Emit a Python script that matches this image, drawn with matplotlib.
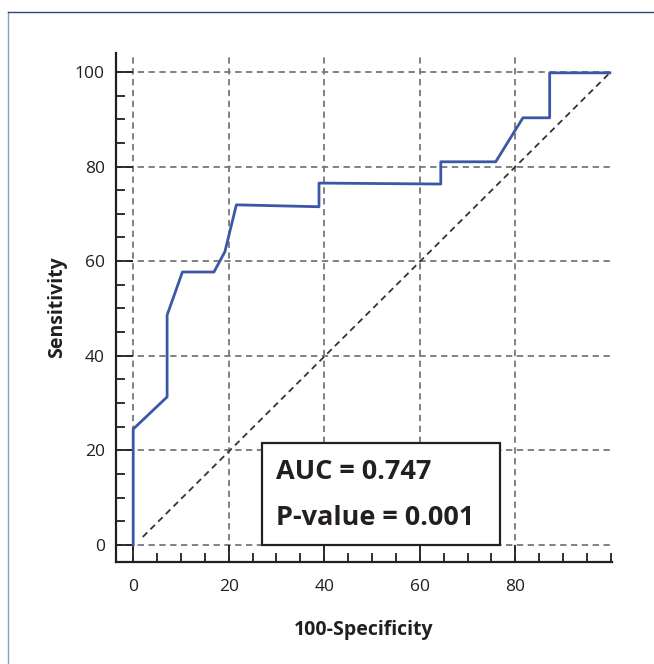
import numpy as np
import matplotlib

matplotlib.use("Agg")
import matplotlib.pyplot as plt
from matplotlib.lines import Line2D
from matplotlib.patches import Rectangle

plt.rcParams["font.family"] = ["Open Sans", "DejaVu Sans"]

# ROC curve (100-specificity, sensitivity)
fpr = [0, 0, 7.1, 7.1, 10.3, 16.9, 19.2, 21.6, 38.9, 38.9, 64.4, 64.4, 75.9, 81.6, 87.2, 87.2, 99.8]
tpr = [0, 24.5, 31.3, 48.6, 57.7, 57.7, 62.0, 71.9, 71.5, 76.5, 76.3, 81.0, 81.0, 90.3, 90.3, 99.8, 99.8]
auc_text = "AUC = 0.747"
p_text = "P-value = 0.001"
xticks = [0, 20, 40, 60, 80]
yticks = [0, 20, 40, 60, 80, 100]

fig = plt.figure(figsize=(6.54, 6.64), dpi=100)
ax = fig.add_axes([0.1774, 0.1536, 0.758, 0.7666])

# frame round the figure (only left and top edges visible)
fig.add_artist(Line2D([8 / 654, 8 / 654], [0, 1 - 12 / 664], transform=fig.transFigure,
                      color="#8e9cc8", lw=1.0))
fig.add_artist(Line2D([8 / 654, 1], [1 - 12 / 664, 1 - 12 / 664], transform=fig.transFigure,
                      color="#2f437e", lw=1.0))

ax.set_xlim(-3.6, 100.2)
ax.set_ylim(-3.6, 104)

for v in xticks:
    ax.axvline(v, color="#777777", lw=1.3, ls=(0, (3.5, 2.5)), zorder=1)
for v in yticks:
    ax.axhline(v, xmax=(100 - -3.6) / (100.2 - -3.6), color="#777777", lw=1.3,
               ls=(0, (3.5, 2.5)), zorder=1)

ax.plot([2, 100], [1.7, 100], color="#333333", lw=1.3, ls=(0, (3.5, 2.5)), zorder=2)
ax.plot(fpr, tpr, color="#3b57a8", lw=2.0, zorder=3)

box = Rectangle((27, 0), 49.8, 21.6, facecolor="white", edgecolor="#222222", lw=1.6, zorder=4)
ax.add_patch(box)
ax.text(30, 15.5, auc_text, fontsize=19.5, fontweight="bold", va="center", ha="left",
        color="#231f20", zorder=5)
ax.text(30, 5.8, p_text, fontsize=19.5, fontweight="bold", va="center", ha="left",
        color="#231f20", zorder=5)

ax.xaxis.set_major_locator(plt.FixedLocator(xticks))
ax.yaxis.set_major_locator(plt.FixedLocator(yticks))
ax.xaxis.set_minor_locator(plt.FixedLocator(np.arange(0, 101, 5)))
ax.yaxis.set_minor_locator(plt.FixedLocator(np.arange(0, 101, 5)))
ax.tick_params(which="major", direction="in", length=12, width=1.3, color="#231f20",
               labelsize=12.5, labelcolor="#231f20")
ax.tick_params(which="minor", direction="in", length=6.5, width=1.3, color="#231f20")
ax.tick_params(axis="x", which="major", pad=12)
ax.tick_params(axis="y", which="major", pad=8)

for s in ["top", "right"]:
    ax.spines[s].set_visible(False)
for s in ["left", "bottom"]:
    ax.spines[s].set_linewidth(1.6)
    ax.spines[s].set_color("#231f20")

ax.set_xlabel("100-Specificity", fontsize=14, fontweight="bold", color="#231f20", labelpad=18)
ax.set_ylabel("Sensitivity", fontsize=14, fontweight="bold", color="#231f20", labelpad=6)

fig.savefig("out.png", dpi=100)
